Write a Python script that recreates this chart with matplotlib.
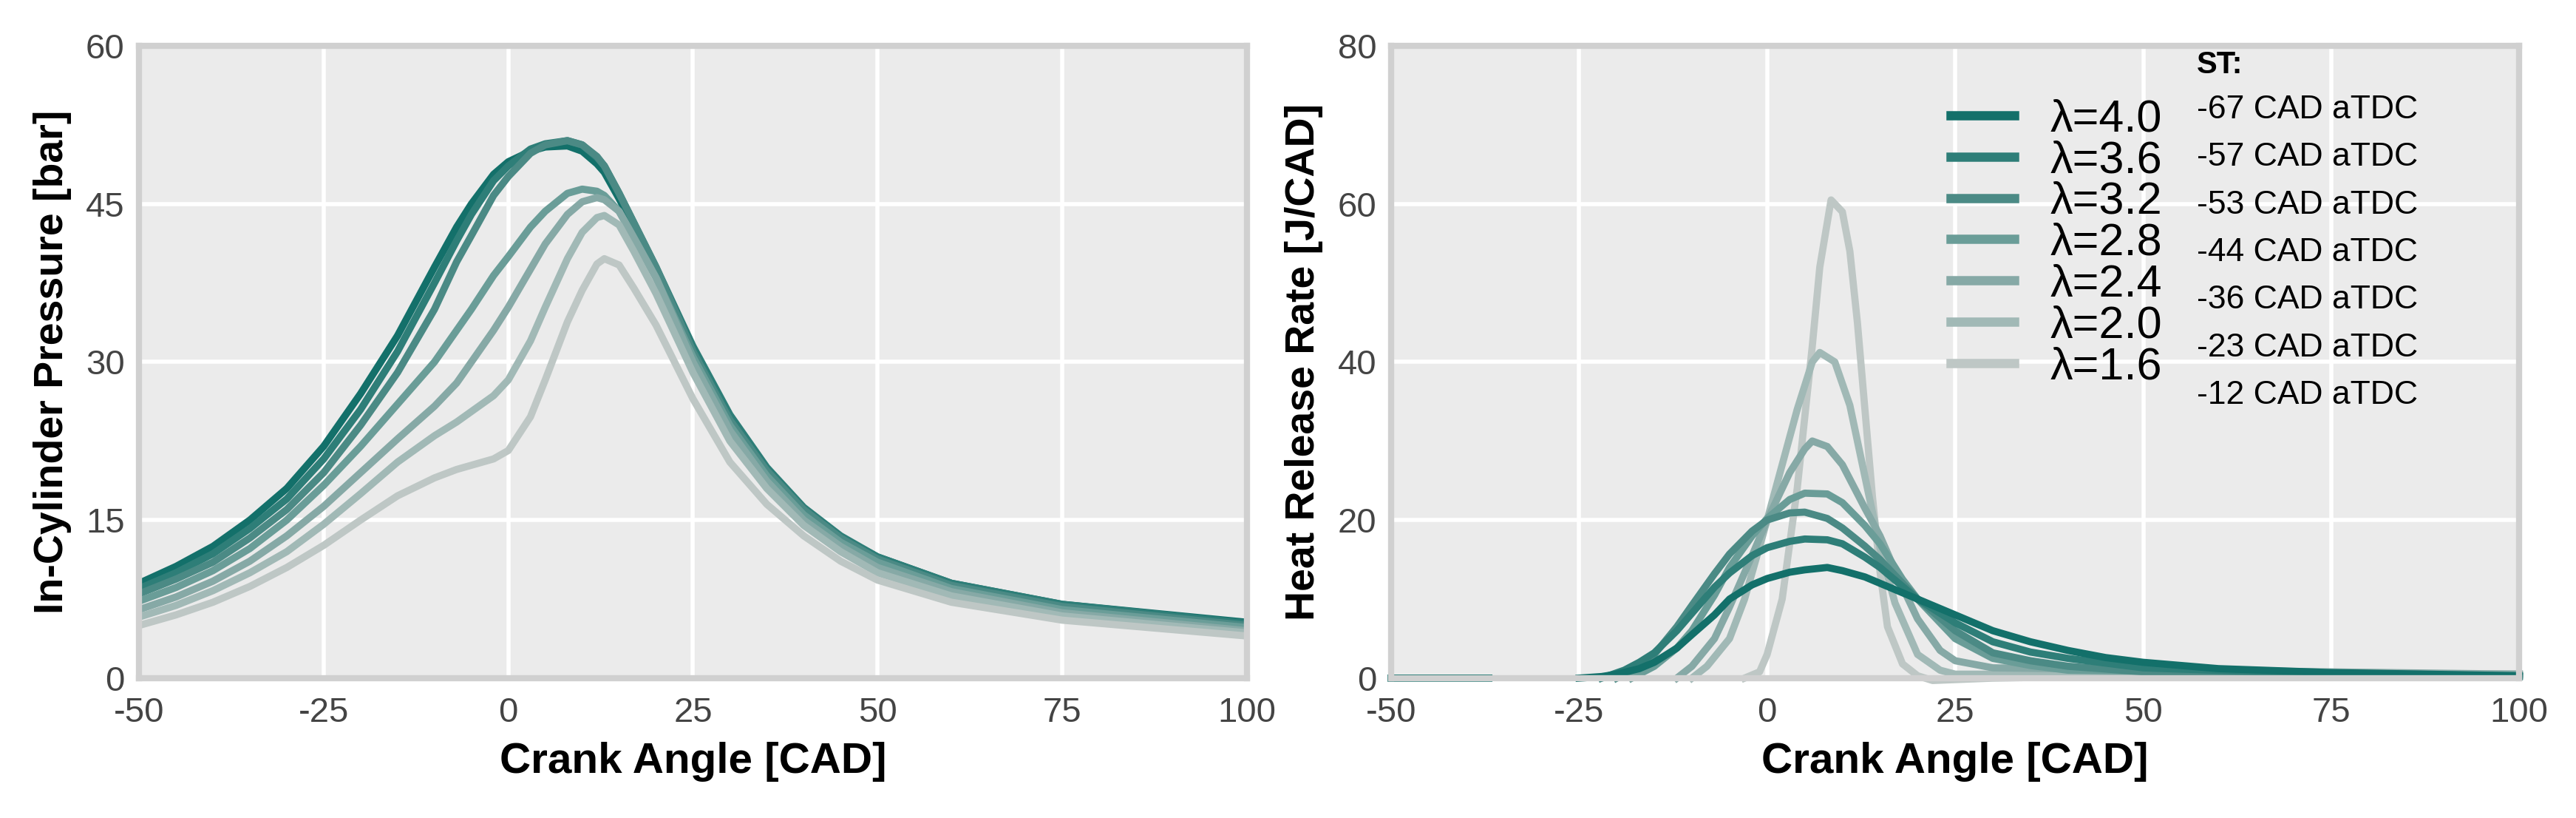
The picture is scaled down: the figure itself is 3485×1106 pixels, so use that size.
import matplotlib
matplotlib.use("Agg")
import matplotlib.pyplot as plt

plt.rcParams['font.family'] = ['Liberation Sans', 'DejaVu Sans']
plt.rcParams['axes.unicode_minus'] = False

lambdas = ["4.0", "3.6", "3.2", "2.8", "2.4", "2.0", "1.6"]
st_labels = ["-67 CAD aTDC", "-57 CAD aTDC", "-53 CAD aTDC", "-44 CAD aTDC",
             "-36 CAD aTDC", "-23 CAD aTDC", "-12 CAD aTDC"]
colors = ["#13706a", "#2e7e78", "#4b8a85", "#6a9d98", "#86a9a6", "#a1b9b6", "#bec7c5"]

# In-cylinder pressure [bar]
p_cad = [-50, -45, -40, -35, -30, -25, -20, -15, -10, -7, -5, -2, 0, 3, 5, 8, 10, 12, 13, 15, 17,
         20, 25, 30, 35, 40, 45, 50, 60, 75, 100]
p_vals = [
    [9.0, 10.6, 12.5, 15.0, 18.0, 22.0, 27.0, 32.5, 39.0, 42.8, 45.0, 47.8, 49.0, 50.0, 50.4, 50.5, 50.0, 48.8, 48.0, 45.5, 42.8,
     38.5, 31.0, 24.5, 19.7, 16.0, 13.4, 11.5, 9.0, 7.0, 5.3],
    [8.5, 10.0, 11.8, 14.2, 17.0, 20.8, 25.5, 31.0, 37.5, 41.5, 44.0, 47.2, 48.6, 50.2, 50.7, 51.0, 50.6, 49.4, 48.6, 46.0, 43.2,
     39.0, 31.5, 25.0, 20.0, 16.2, 13.5, 11.5, 9.0, 7.0, 5.2],
    [8.0, 9.4, 11.0, 13.3, 16.0, 19.5, 24.0, 29.0, 35.0, 39.5, 42.0, 45.8, 47.6, 49.8, 50.6, 51.0, 50.6, 49.5, 48.6, 46.0, 43.2,
     39.0, 31.0, 24.5, 19.7, 16.0, 13.3, 11.3, 8.8, 6.8, 5.0],
    [7.3, 8.6, 10.2, 12.3, 15.0, 18.3, 22.0, 26.0, 30.0, 33.0, 35.0, 38.2, 40.0, 42.8, 44.3, 46.0, 46.4, 46.2, 45.8, 44.3, 41.8,
     38.0, 30.5, 24.0, 19.2, 15.5, 12.9, 11.0, 8.5, 6.5, 4.8],
    [6.5, 7.7, 9.2, 11.1, 13.5, 16.3, 19.5, 22.7, 25.8, 28.0, 30.0, 33.0, 35.2, 38.8, 41.2, 44.0, 45.2, 45.6, 45.4, 44.3, 41.8,
     38.0, 30.0, 23.5, 18.7, 15.0, 12.5, 10.5, 8.2, 6.2, 4.5],
    [5.8, 6.9, 8.3, 10.0, 12.0, 14.6, 17.5, 20.5, 23.0, 24.3, 25.3, 26.8, 28.3, 32.0, 35.2, 39.8, 42.3, 43.7, 43.9, 43.0, 40.5,
     36.5, 29.0, 22.5, 18.0, 14.5, 12.0, 10.0, 7.8, 5.9, 4.3],
    [5.0, 6.0, 7.2, 8.7, 10.5, 12.6, 15.0, 17.3, 19.0, 19.8, 20.2, 20.8, 21.6, 24.8, 28.3, 33.8, 36.8, 39.3, 39.8, 39.2, 37.0,
     33.5, 26.5, 20.5, 16.5, 13.5, 11.1, 9.3, 7.2, 5.5, 4.0],
]

# Heat release rate [J/CAD]
h_cad = [
    [-50, -37, None, -25, -22, -20, -17, -15, -12, -10, -7, -5, -2, 0, 3, 5, 8, 10, 13, 15, 20, 25, 30, 35, 40, 45, 50, 60, 75, 100],
    [-22, -19, -17, -15, -12, -10, -7, -5, -2, 0, 3, 5, 8, 10, 13, 15, 20, 25, 30, 35, 40, 50, 75, 100],
    [-20, -17, -15, -12, -10, -7, -5, -2, 0, 3, 5, 8, 10, 13, 15, 20, 25, 30, 35, 40, 50, 100],
    [-18, -15, -12, -10, -7, -5, -2, 0, 3, 5, 8, 10, 13, 15, 18, 20, 25, 30, 35, 40, 100],
    [-12, -10, -7, -5, -2, 0, 3, 5, 6, 8, 10, 13, 15, 18, 20, 23, 25, 30, 100],
    [-10, -8, -5, -3, 0, 2, 4, 6, 7, 9, 11, 13, 15, 17, 20, 23, 25, 40, 100],
    [-3, -1, 0, 2, 4, 6, 7, 8.5, 10, 11, 12, 13, 14, 15, 16, 18, 20, 22, 30, 60, 100],
]
h_vals = [
    [0, 0, None, 0, 0.2, 0.5, 1.2, 2.0, 3.8, 5.5, 8.0, 10.0, 11.8, 12.6, 13.4, 13.7, 14.0, 13.6, 12.8, 12.0, 10.0, 8.0, 6.0, 4.6, 3.5, 2.6, 2.0, 1.2, 0.7, 0.3],
    [0, 1.0, 2.0, 3.2, 6.0, 8.2, 11.5, 13.3, 15.5, 16.5, 17.3, 17.6, 17.5, 17.0, 15.3, 14.0, 10.0, 7.0, 4.6, 3.3, 2.5, 1.3, 0.5, 0.2],
    [0, 1.5, 3.0, 6.5, 9.2, 13.2, 15.7, 18.6, 20.0, 20.9, 21.0, 20.2, 19.0, 16.7, 15.0, 10.0, 6.0, 3.2, 2.2, 1.5, 0.8, 0.2],
    [0, 1.5, 3.8, 6.0, 10.5, 14.0, 18.0, 20.2, 22.6, 23.4, 23.3, 22.2, 19.3, 17.0, 12.5, 10.0, 5.0, 2.5, 1.6, 1.0, 0.3],
    [0, 1.5, 5.0, 9.0, 15.5, 20.0, 26.0, 29.0, 30.0, 29.3, 27.0, 21.5, 18.0, 11.5, 7.5, 3.5, 2.2, 1.3, 0.5],
    [0, 1.5, 5.0, 10.0, 20.0, 27.0, 34.0, 40.0, 41.2, 40.0, 34.5, 25.5, 16.5, 9.5, 3.0, 1.0, 0.5, 0.5, 0.5],
    [0, 0.8, 3.0, 10.0, 24.0, 42.0, 52.0, 60.5, 59.0, 54.0, 45.0, 34.0, 23.0, 13.5, 6.5, 1.8, 0.3, -0.3, 0, 0.5, 0.5],
]

fig = plt.figure(figsize=(34.85, 11.06), dpi=100)
ax1 = fig.add_axes([0.054, 0.171, 0.430, 0.773])
ax2 = fig.add_axes([0.540, 0.171, 0.438, 0.773])

for ax in (ax1, ax2):
    ax.set_facecolor("#ebebeb")
    ax.grid(True, color="white", linewidth=4)
    ax.set_axisbelow(True)
    for s in ax.spines.values():
        s.set_color("#d0d0d0")
        s.set_linewidth(6)
    ax.tick_params(length=0, labelsize=34, labelcolor="#444444")
    ax.tick_params(axis="x", pad=18)
    ax.tick_params(axis="y", pad=14)
    ax.set_xlim(-50, 100)
    ax.set_xticks([-50, -25, 0, 25, 50, 75, 100])
    ax.set_xlabel("Crank Angle [CAD]", fontsize=42, fontweight="bold", labelpad=12)

for i in range(len(lambdas)):
    ax1.plot(p_cad, p_vals[i], color=colors[i], linewidth=7, solid_joinstyle="round")
for i in range(len(lambdas) - 1, -1, -1):
    xs = [float('nan') if v is None else v for v in h_cad[i]]
    ys = [float('nan') if v is None else v for v in h_vals[i]]
    ax2.plot(xs, ys, color=colors[i], linewidth=7, label="λ=" + lambdas[i],
             solid_joinstyle="round", clip_on=False)

ax1.set_ylim(0, 60)
ax1.set_yticks([0, 15, 30, 45, 60])
ax1.set_ylabel("In-Cylinder Pressure [bar]", fontsize=40, fontweight="bold", labelpad=14)
ax2.set_ylim(0, 80)
ax2.set_yticks([0, 20, 40, 60, 80])
ax2.set_ylabel("Heat Release Rate [J/CAD]", fontsize=40, fontweight="bold", labelpad=14)

h, l = ax2.get_legend_handles_labels()
leg = ax2.legend(h[::-1], l[::-1], loc="upper left", bbox_to_anchor=(0.48, 0.945),
                 frameon=False, fontsize=44, labelspacing=-0.02, handlelength=1.4,
                 handletextpad=0.8, borderaxespad=0)
for line in leg.get_lines():
    line.set_linewidth(9)

ax2.text(0.714, 0.969, "ST:", transform=ax2.transAxes, fontsize=30, fontweight="bold",
         va="center", ha="left")
for i, s in enumerate(st_labels):
    ax2.text(0.714, 0.899 - i * 0.0753, s, transform=ax2.transAxes, fontsize=32,
             va="center", ha="left")

fig.savefig("out.png", dpi=100)
